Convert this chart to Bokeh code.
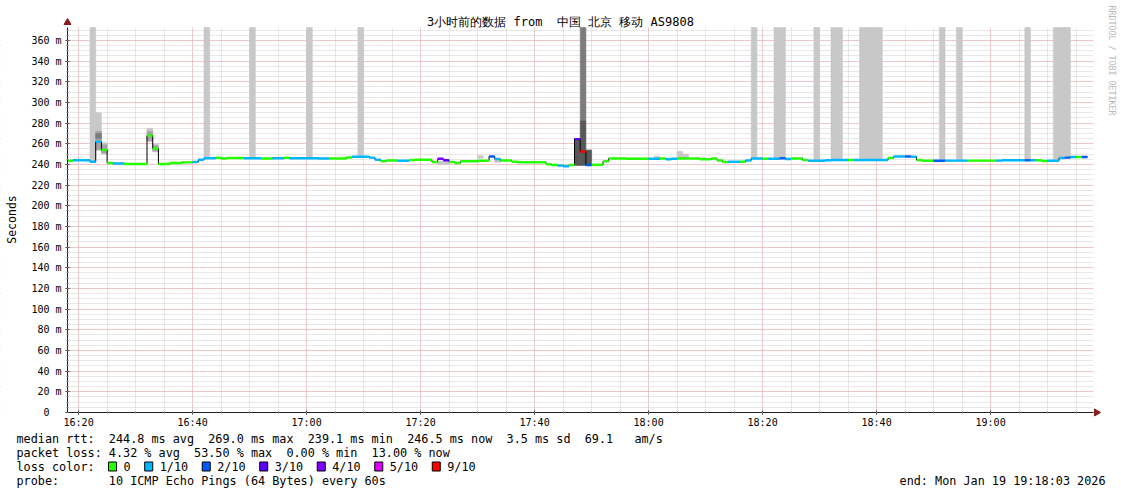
import math
from bokeh.plotting import figure
from bokeh.models import Range1d, FixedTicker, Label
from bokeh.embed import file_html
from bokeh.resources import INLINE

# ---------------- data (minutes after 16:18, one RRD step = 1 minute) ----------------
seg_start = [0, 1, 4, 5, 6, 7, 8, 10, 14, 15, 16, 18, 20, 22, 23, 24, 26, 27, 28, 31,
             34, 36, 38, 39, 44, 46, 49, 50, 53, 54, 55, 56, 58, 60, 61, 64, 65, 66, 67, 68,
             69, 72, 74, 75, 76, 78, 79, 84, 85, 86, 87, 88, 89, 90, 91, 92, 94, 95, 98, 102,
             104, 105, 106, 107, 111, 113, 114, 115, 116, 118, 119, 120, 122, 123, 125, 126, 127, 129, 130, 133,
             134, 137, 138, 144, 145, 147, 148, 149, 150, 152, 154, 158, 163, 164, 168, 169, 170, 171, 172, 174,
             175, 176, 177, 178]
seg_ms = [243.5, 244.0, 242.5, 262.0, 254.0, 241.5, 241.0, 240.5, 268.0, 255.5, 240.5, 241.3, 242.0, 242.3, 244.5, 246.0, 246.5, 245.8, 246.3, 246.0,
          245.7, 246.0, 246.5, 246.0, 245.8, 245.8, 246.8, 247.4, 246.6, 244.5, 243.2, 243.9, 243.6, 244.2, 244.5, 242.3, 245.5, 244.0, 242.4, 241.3,
          243.0, 243.6, 247.7, 245.3, 243.9, 242.6, 242.2, 240.3, 239.5, 239.0, 238.2, 239.4, 264.5, 252.6, 239.5, 239.7, 243.0, 245.8, 245.5, 245.6,
          245.8, 245.0, 245.5, 245.8, 245.0, 245.8, 243.9, 242.3, 242.6, 242.6, 243.9, 245.8, 245.5, 245.5, 246.0, 245.3, 245.8, 244.2, 243.6, 244.0,
          244.3, 244.3, 244.3, 246.3, 247.7, 247.7, 247.5, 244.3, 243.6, 243.6, 243.7, 243.7, 243.7, 244.1, 244.1, 244.1, 244.1, 243.4, 243.6, 246.2,
          246.6, 247.3, 247.3, 247.3]
seg_loss = [0, 1, 1, 1, 0, 0, 1, 0, 0, 0, 0, 0, 0, 1, 1, 1, 0, 0, 0, 1,
            0, 1, 0, 1, 1, 0, 0, 1, 1, 1, 0, 0, 1, 0, 0, 0, 4, 3, 0, 0,
            0, 0, 2, 1, 0, 0, 0, 0, 0, 1, 1, 0, 3, 9, 2, 0, 0, 0, 0, 1,
            0, 1, 1, 0, 0, 0, 0, 0, 1, 0, 1, 1, 0, 1, 2, 1, 0, 0, 1, 1,
            1, 0, 1, 0, 1, 2, 1, 0, 0, 2, 1, 0, 1, 1, 2, 1, 0, 0, 1, 1,
            2, 1, 0, 2]
seg_end = 179

OFF = float("inf")   # ping spread reaching beyond the top of the graph
# smoke (ping spread) per step: start minute, low / high rtt in ms, shade index
smoke_t = [4, 24, 32, 42, 51, 120, 124, 125, 131, 134, 135, 139, 140, 141, 142, 153, 156, 168, 173, 174, 175,
           5, 5, 5, 6, 6, 14, 14, 15, 15, 65, 66, 72, 75, 103, 107, 108,
           89, 90, 90, 91]
smoke_lo = [243, 246, 246, 246, 247, 246, 246, 246, 244, 244, 244, 244.5, 244.5, 244.5, 244.5, 243.6, 243.7, 244, 244, 246, 246.5,
            254, 254, 265, 250, 251, 262, 263, 252, 253, 240, 240, 246, 242, 246, 246, 246,
            239, 282, 239, 239]
smoke_hi = [OFF] * 21 + [290, 272, 270, 261, 259, 275, 272, 260, 258, 243, 243, 248.5, 245, 248, 252.5, 250,
                         265, OFF, 282, 254]
smoke_shade = [0] * 21 + [0, 1, 2, 0, 1, 0, 1, 0, 1, 0, 0, 0, 0, 0, 0, 0,
                          3, 2, 3, 3]

loss_levels = [0, 1, 2, 3, 4, 5, 9]
loss_labels = ["0", "1/10", "2/10", "3/10", "4/10", "5/10", "9/10"]
loss_colors = ["#26ff00", "#00b8ff", "#0059ff", "#5e00ff", "#7e00ff", "#dd00ff", "#ff0000"]
shade_colors = ["#c8c8c8", "#a4a4a4", "#7c7c7c", "#585858"]

x_tick_labels = ["16:20", "16:40", "17:00", "17:20", "17:40", "18:00", "18:20", "18:40", "19:00"]
y_ticks = list(range(0, 361, 20))

title_text = "3小时前的数据 from  中国 北京 移动 AS9808"
stat_lines = [
    "median rtt:  244.8 ms avg  269.0 ms max  239.1 ms min  246.5 ms now  3.5 ms sd  69.1   am/s",
    "packet loss: 4.32 % avg  53.50 % max  0.00 % min  13.00 % now",
    "loss color:",
    "probe:       10 ICMP Echo Pings (64 Bytes) every 60s",
]
end_text = "end: Mon Jan 19 19:18:03 2026"

# ---------------- geometry of the page ----------------
W, H = 1120, 492
GL, GR, GT, GB = 67, 1093, 27, 412        # graph area in page pixels
X0, X1 = 0.05, 180.05                      # 16:18:03 .. 19:18:03 in minutes after 16:18
Y0, Y1 = 0.0, 372.5                        # ms
kx = (GR - GL) / (X1 - X0)
ky = (GB - GT) / (Y1 - Y0)
xr = Range1d(X0 - GL / kx, X1 + (W - GR) / kx)
yr = Range1d(Y0 - (H - GB) / ky, Y1 + GT / ky)

def minute_of(hhmm):
    h, m = hhmm.split(":")
    return int(h) * 60 + int(m) - (16 * 60 + 18)

def nb(s):
    return s.replace(" ", "\u00a0")

x_major = [minute_of(s) for s in x_tick_labels]
x_minor = [x_major[0] + 5 * k for k in range(0, 36) if x_major[0] + 5 * k < X1]
y_minor = list(range(0, 371, 5))

MONO = "DejaVu Sans Mono"
FS = "11.8px"

p = figure(width=W, height=H, x_range=xr, y_range=yr, output_backend="svg",
           toolbar_location=None, title=None, min_border=0)
p.outline_line_color = None
p.background_fill_color = "white"
p.border_fill_color = "white"

xt = FixedTicker(ticks=x_major, minor_ticks=x_minor)
yt = FixedTicker(ticks=y_ticks, minor_ticks=y_minor)
p.xaxis.ticker = xt
p.yaxis.ticker = yt
p.xgrid.ticker = xt
p.ygrid.ticker = yt
p.xaxis.fixed_location = Y0
p.yaxis.fixed_location = X0
p.xaxis.bounds = (X0, X1)
p.yaxis.bounds = (Y0, Y1)
p.xaxis.major_label_overrides = {m: s for m, s in zip(x_major, x_tick_labels)}
p.yaxis.major_label_overrides = {v: ("%d\u00a0m" % v if v else "0\u00a0\u00a0") for v in y_ticks}

for g in (p.xgrid, p.ygrid):
    g.grid_line_color = "#f4a8a8"
    g.grid_line_dash = "1 1"
    g.grid_line_width = 1
    g.minor_grid_line_color = "#d0d0d0"
    g.minor_grid_line_dash = "1 1"

for ax in (p.xaxis, p.yaxis):
    ax.axis_line_color = "#202020"
    ax.major_tick_line_color = "#202020"
    ax.minor_tick_line_color = "#808080"
    ax.major_tick_in = 2
    ax.major_tick_out = 2
    ax.minor_tick_in = 1
    ax.minor_tick_out = 1
    ax.major_label_text_font = MONO
    ax.major_label_text_font_size = "10px"
    ax.major_label_text_color = "#000000"
p.xaxis.major_label_standoff = 2
p.yaxis.major_label_standoff = 4

# white surround so grid lines stay inside the graph area
p.quad(left=[xr.start, X1, xr.start, xr.start], right=[X0, xr.end, xr.end, xr.end],
       bottom=[yr.start, yr.start, Y1, yr.start], top=[yr.end, yr.end, yr.end, Y0],
       fill_color="white", line_color=None)

# smoke
smoke_fill = [shade_colors[s] for s in smoke_shade]
p.quad(left=smoke_t, right=[t + 1 for t in smoke_t], bottom=smoke_lo,
       top=[min(h, Y1) for h in smoke_hi],
       fill_color=smoke_fill, line_color=smoke_fill, line_width=0.6)

# median as black stair line
xs = seg_start + [seg_end]
ys = seg_ms + [seg_ms[-1]]
p.step(x=xs, y=ys, mode="after", line_color="black", line_width=1)

# loss coloured median band
seg_right = seg_start[1:] + [seg_end]
col_of = dict(zip(loss_levels, loss_colors))
p.quad(left=seg_start, right=seg_right,
       bottom=[v - 1.2 for v in seg_ms], top=[v + 1.2 for v in seg_ms],
       fill_color=[col_of[l] for l in seg_loss], line_color=None)

# axis arrows
arrow_c = "#8b1a1a"
p.scatter(x=[X0], y=[Y1 + 5 / ky], marker="triangle", size=7, fill_color=arrow_c, line_color=arrow_c)
p.scatter(x=[X1 + 3 / kx], y=[Y0], marker="triangle", angle=-math.pi / 2, size=7,
          fill_color=arrow_c, line_color=arrow_c)

# page texts (screen units = page pixels, y measured from the bottom)
def page_label(text, rx, ry, size, align="left", angle=0.0, color="#000000"):
    return Label(x=rx, y=H - ry, x_units="screen", y_units="screen", text=text,
                 text_font=MONO, text_font_size=size, text_align=align, text_baseline="middle",
                 angle=angle, text_color=color)

p.add_layout(page_label(nb(title_text), 560, 21, "12px", align="center"))
p.add_layout(page_label("Seconds", 11, 219, "11.5px", align="center", angle=math.pi / 2))
p.add_layout(page_label(nb("RRDTOOL / TOBI OETIKER"), 1111, 60, "8.3px", align="center",
                        angle=-math.pi / 2, color="#b8b8b8"))

row_y = [438, 452, 466, 480]
for txt, yy in zip(stat_lines, row_y):
    p.add_layout(page_label(nb(txt), 16, yy, FS))
p.add_layout(page_label(nb(end_text), 1105, 480, FS, align="right"))

# loss colour legend swatches
cw = 7.1
box_left = [108.0]
for lab in loss_labels[:-1]:
    box_left.append(box_left[-1] + (2 + len(lab) + 2.1) * cw)
bx = [xr.start + (b + 4) / kx for b in box_left]
by = [yr.end - 466 / ky] * len(box_left)
p.rect(x=bx, y=by, width=8, height=9, width_units="screen", height_units="screen",
       fill_color=loss_colors, line_color="black", line_width=1)
for b, lab in zip(box_left, loss_labels):
    p.add_layout(page_label(lab, b + 15, 466, FS))

open("out.html", "w").write(file_html(p, INLINE))
